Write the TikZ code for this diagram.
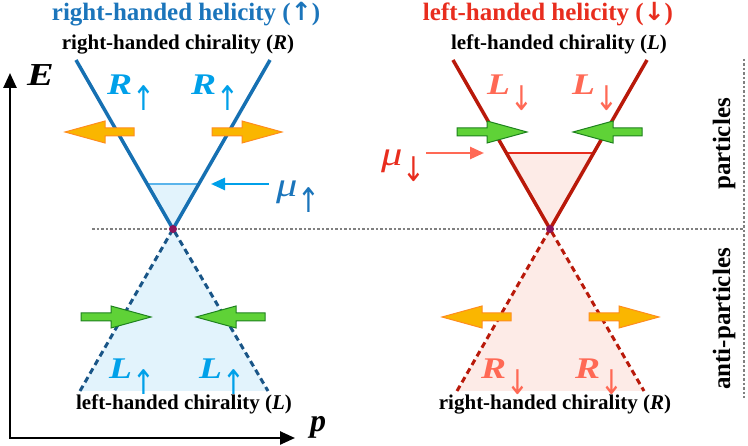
\documentclass[tikz,border=0pt]{standalone}
\usepackage{fontspec}
\setmainfont{Liberation Serif}
\newfontfamily\arrowfont{DejaVu Sans}
\usetikzlibrary{positioning,calc,arrows.meta}
\definecolor{helblue}{RGB}{27,117,187}
\definecolor{coneblue}{RGB}{22,112,178}
\definecolor{darkblue}{RGB}{25,85,135}
\definecolor{skyblue}{RGB}{0,160,233}
\definecolor{paleblue}{RGB}{226,243,252}
\definecolor{muline}{RGB}{90,180,235}
\definecolor{helred}{RGB}{232,45,30}
\definecolor{conered}{RGB}{185,25,10}
\definecolor{salmon}{RGB}{255,105,85}
\definecolor{palered}{RGB}{253,235,231}
\definecolor{arrorange}{RGB}{250,182,0}
\definecolor{edgeorange}{RGB}{255,140,30}
\definecolor{arrgreen}{RGB}{95,210,55}
\definecolor{edgegreen}{RGB}{30,130,30}
\definecolor{vtx}{RGB}{140,20,90}

% wide letter with a spin arrow set as a subscript
\newcommand{\spinsub}[1]{{\arrowfont\fontsize{34pt}{34pt}\selectfont\mdseries\upshape\raisebox{-16pt}{\scalebox{0.8}[1]{#1}}}}
\newcommand{\wide}[1]{\scalebox{1.25}[1]{#1}}
% block arrow: tail x, tip x, y, style
\newcommand{\blockarrow}[4]{%
  \pgfmathsetmacro{\hb}{#2-40*sign(#2-#1)}
  \filldraw[#4, line width=1pt] (#1,#3-4) -- (\hb,#3-4) -- (\hb,#3-11) -- (#2,#3) -- (\hb,#3+11) -- (\hb,#3+4) -- (#1,#3+4) -- cycle;
}

\tikzset{
  title/.style={font=\fontsize{25pt}{25pt}\selectfont\bfseries, inner sep=0pt, anchor=base},
  chir/.style={font=\fontsize{21pt}{21pt}\selectfont\bfseries, inner sep=0pt, anchor=base},
  side/.style={font=\fontsize{25pt}{25pt}\selectfont\bfseries, inner sep=0pt, rotate=90},
  axislab/.style={font=\fontsize{32pt}{32pt}\selectfont\bfseries\itshape, inner sep=0pt, anchor=base west},
  spinlab/.style={font=\fontsize{30pt}{30pt}\selectfont\bfseries\itshape, inner sep=0pt, anchor=base west},
  mulab/.style={font=\fontsize{34pt}{34pt}\selectfont\itshape, inner sep=0pt, anchor=base west},
  cone/.style={line width=3.5pt},
  anticone/.style={line width=3pt, dash pattern=on 6pt off 4pt},
  guide/.style={gray, line width=1.2pt, dash pattern=on 2.5pt off 2pt},
  orangearr/.style={fill=arrorange, draw=edgeorange},
  greenarr/.style={fill=arrgreen, draw=edgegreen},
}

\begin{document}
\begin{tikzpicture}[x=1pt,y=-1pt]
\useasboundingbox (0,0) rectangle (748,446);

% cone points
\coordinate (vL) at (173,229);
\coordinate (tLa) at (76,60);
\coordinate (tLb) at (270,60);
\coordinate (bLa) at (80,391);
\coordinate (bLb) at (268,391);
\coordinate (vR) at (550,229);
\coordinate (tRa) at (453,60);
\coordinate (tRb) at (647,60);
\coordinate (bRa) at (457,391);
\coordinate (bRb) at (644,391);

% Fermi levels
\coordinate (muLa) at ($(vL)!0.266!(tLa)$);
\coordinate (muLb) at ($(vL)!0.266!(tLb)$);
\coordinate (muRa) at ($(vR)!0.45!(tRa)$);
\coordinate (muRb) at ($(vR)!0.45!(tRb)$);

% fillings
\fill[paleblue] (vL) -- (muLa) -- (muLb) -- cycle;
\fill[palered] (vR) -- (muRa) -- (muRb) -- cycle;
\fill[paleblue] (vL) -- (bLa) -- (bLb) -- cycle;
\fill[palered] (vR) -- (bRa) -- (bRb) -- cycle;
\draw[muline, line width=2pt] (muLa) -- (muLb);
\draw[helred, line width=2pt] (muRa) -- (muRb);

% guides
\coordinate (hg0) at (92,229);
\coordinate (hg1) at (744,229);
\coordinate (vg0) at (744,59);
\coordinate (vg1) at (744,398);
\draw[guide] (hg0) -- (hg1);
\draw[guide] (vg0) -- (vg1);

% cones
\draw[cone, coneblue] (tLa) -- (vL) -- (tLb);
\draw[cone, conered] (tRa) -- (vR) -- (tRb);
\draw[anticone, darkblue] (bLa) -- (vL) -- (bLb);
\draw[anticone, conered] (bRa) -- (vR) -- (bRb);
\fill[vtx] (vL) circle[radius=4pt];
\fill[vtx] (vR) circle[radius=4pt];

% momentum arrows
\blockarrow{134}{65}{132}{orangearr}
\blockarrow{212}{282}{132}{orangearr}
\blockarrow{457}{527}{132}{greenarr}
\blockarrow{642}{573}{132}{greenarr}
\blockarrow{81}{151}{317}{greenarr}
\blockarrow{265}{196}{317}{greenarr}
\blockarrow{511}{442}{317}{orangearr}
\blockarrow{589}{659}{317}{orangearr}

% axes
\coordinate (orig) at (10,438);
\coordinate (Etip) at (10,73);
\coordinate (ptip) at (295,438);
\draw[line width=2.5pt, {Triangle[length=15pt,width=13pt]}-{Triangle[length=15pt,width=13pt]}] (Etip) -- (orig) -- (ptip);
\node[axislab] (E) at (27,86) {\wide{E}};
\node[axislab] (p) at (310,432) {p};

% titles
\node[title, text=helblue] (helR) at (186,21) {right-handed helicity ({\arrowfont ↑})};
\node[title, text=helred] (helL) at (548,21) {left-handed helicity ({\arrowfont ↓})};
\node[chir] (chRtop) at (178,50) {right-handed chirality (\textit{R})};
\node[chir] (chLtop) at (559,50) {left-handed chirality (\textit{L})};
\node[chir] (chLbot) at (184,410) {left-handed chirality (\textit{L})};
\node[chir] (chRbot) at (555,410) {right-handed chirality (\textit{R})};
\node[side] (part) at (724,144) {particles};
\node[side] (apart) at (724,319) {anti-particles};

% spin labels
\node[spinlab, text=skyblue] (Ru1) at (107,95) {\wide{R}\spinsub{↑}};
\node[spinlab, text=skyblue] (Ru2) at (191,95) {\wide{R}\spinsub{↑}};
\node[spinlab, text=salmon] (Ld1) at (487,95) {\wide{L}\spinsub{↓}};
\node[spinlab, text=salmon] (Ld2) at (572,95) {\wide{L}\spinsub{↓}};
\node[spinlab, text=skyblue] (Lu1) at (109,379) {\wide{L}\spinsub{↑}};
\node[spinlab, text=skyblue] (Lu2) at (199,379) {\wide{L}\spinsub{↑}};
\node[spinlab, text=salmon] (Rd1) at (481,379) {\wide{R}\spinsub{↓}};
\node[spinlab, text=salmon] (Rd2) at (575,379) {\wide{R}\spinsub{↓}};

% chemical potentials
\node[mulab, text=helblue] (muup) at (276,197) {\wide{μ}\spinsub{↑}};
\node[mulab, text=helred] (mudn) at (381,166) {\wide{μ}\spinsub{↓}};
\coordinate (muupTail) at (269,184);
\coordinate (muupTip) at (211,184);
\coordinate (mudnTail) at (426,153);
\coordinate (mudnTip) at (484,153);
\draw[skyblue, line width=2.5pt, -{Triangle[length=14pt,width=12pt]}] (muupTail) -- (muupTip);
\draw[salmon, line width=2.5pt, -{Triangle[length=14pt,width=12pt]}] (mudnTail) -- (mudnTip);
\end{tikzpicture}
\end{document}
